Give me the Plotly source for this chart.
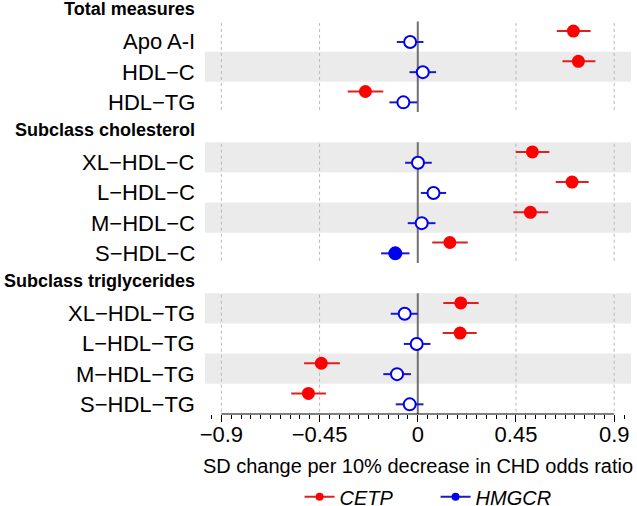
import plotly.graph_objects as go

# ---------------- data ----------------
groups = ["Total measures", "Subclass cholesterol", "Subclass triglycerides"]
group_rows = [
    ["Apo A-I", "HDL\u2212C", "HDL\u2212TG"],
    ["XL\u2212HDL\u2212C", "L\u2212HDL\u2212C", "M\u2212HDL\u2212C", "S\u2212HDL\u2212C"],
    ["XL\u2212HDL\u2212TG", "L\u2212HDL\u2212TG", "M\u2212HDL\u2212TG", "S\u2212HDL\u2212TG"],
]
cetp_est = [0.713, 0.736, -0.240, 0.525, 0.707, 0.516, 0.147, 0.197, 0.194, -0.442, -0.501]
cetp_lo = [0.637, 0.663, -0.321, 0.449, 0.632, 0.438, 0.066, 0.117, 0.114, -0.521, -0.580]
cetp_hi = [0.792, 0.814, -0.158, 0.603, 0.783, 0.598, 0.229, 0.279, 0.270, -0.357, -0.421]
hmgcr_est = [-0.035, 0.023, -0.066, 0.001, 0.072, 0.018, -0.103, -0.060, -0.005, -0.095, -0.037]
hmgcr_lo = [-0.096, -0.038, -0.130, -0.058, 0.014, -0.046, -0.168, -0.124, -0.064, -0.158, -0.101]
hmgcr_hi = [0.026, 0.084, -0.002, 0.064, 0.130, 0.081, -0.038, 0.000, 0.058, -0.031, 0.026]
hmgcr_sig = [False, False, False, False, False, False, True, False, False, False, False]
tick_vals = [-0.9, -0.45, 0, 0.45, 0.9]
tick_text = ["\u22120.9", "\u22120.45", "0", "0.45", "0.9"]
x_title = "SD change per 10% decrease in CHD odds ratio"

# ---------------- layout of slots ----------------
FONT = "Arial, Liberation Sans, sans-serif"
RED_M, RED_L = "#ff0000", "#e02020"
BLUE_M, BLUE_L = "#0000ee", "#1a1acc"
DODGE = 0.18

header_slots, row_slots, row_labels, group_spans = [], [], [], []
s = 0
for g, rows in zip(groups, group_rows):
    header_slots.append(s)
    s += 1
    first = s
    for r in rows:
        row_slots.append(s)
        row_labels.append(r)
        s += 1
    group_spans.append((first - 0.5, s - 1 + 0.5))

fig = go.Figure()

shapes = []
# background bands: every second row overall
for i, yc in enumerate(row_slots):
    if i % 2 == 1:
        shapes.append(dict(type="rect", xref="paper", x0=0, x1=1, yref="y",
                           y0=yc - 0.5, y1=yc + 0.5, fillcolor="#ebebeb",
                           line=dict(width=0), layer="below"))
# vertical reference lines per group
for (y0, y1) in group_spans:
    for v in tick_vals:
        if v == 0:
            shapes.append(dict(type="line", xref="x", yref="y", x0=v, x1=v, y0=y0, y1=y1,
                               line=dict(color="#707070", width=2), layer="below"))
        else:
            shapes.append(dict(type="line", xref="x", yref="y", x0=v, x1=v, y0=y0 + 0.05, y1=y1 - 0.05,
                               line=dict(color="#b8b8b8", width=1, dash="3px,3px"), layer="below"))
# axis line from first to last tick
shapes.append(dict(type="line", xref="x", yref="paper", x0=tick_vals[0], x1=tick_vals[-1], y0=0, y1=0,
                   line=dict(color="black", width=1.2)))

cy = [r - DODGE for r in row_slots]
hy = [r + DODGE for r in row_slots]

fig.add_trace(go.Scatter(
    x=cetp_est, y=cy, mode="markers", showlegend=False,
    marker=dict(color=RED_M, size=13, line=dict(width=0)),
    error_x=dict(type="data", symmetric=False,
                 array=[h - e for h, e in zip(cetp_hi, cetp_est)],
                 arrayminus=[e - l for e, l in zip(cetp_est, cetp_lo)],
                 color=RED_L, thickness=2, width=0)))
fig.add_trace(go.Scatter(
    x=hmgcr_est, y=hy, mode="markers", showlegend=False,
    marker=dict(color=[BLUE_M if sg else "white" for sg in hmgcr_sig], size=12,
                line=dict(color=BLUE_M, width=2)),
    error_x=dict(type="data", symmetric=False,
                 array=[h - e for h, e in zip(hmgcr_hi, hmgcr_est)],
                 arrayminus=[e - l for e, l in zip(hmgcr_est, hmgcr_lo)],
                 color=BLUE_L, thickness=2, width=0)))

# legend traces
fig.add_trace(go.Scatter(x=[None], y=[None], mode="lines+markers", name="<i>CETP</i>",
                         line=dict(color=RED_L, width=2), marker=dict(color=RED_M, size=8)))
fig.add_trace(go.Scatter(x=[None], y=[None], mode="lines+markers", name="<i>HMGCR</i>",
                         line=dict(color=BLUE_L, width=2), marker=dict(color=BLUE_M, size=8)))

annotations = []
for lab, sl in zip(row_labels, row_slots):
    annotations.append(dict(text=lab, xref="paper", x=0, xanchor="right", xshift=-8,
                            yref="y", y=sl + DODGE, yanchor="middle", showarrow=False,
                            font=dict(family=FONT, size=22, color="black")))
for g, sl in zip(groups, header_slots):
    annotations.append(dict(text="<b>" + g + "</b>", xref="paper", x=0, xanchor="right", xshift=-8,
                            yref="y", y=sl + 0.08, yanchor="middle", showarrow=False,
                            font=dict(family=FONT, size=18, color="black")))

fig.update_layout(
    width=637, height=506,
    margin=dict(l=205, r=6, t=0, b=92, autoexpand=False),
    paper_bgcolor="white", plot_bgcolor="white",
    font=dict(family=FONT, color="black"),
    shapes=shapes, annotations=annotations,
    showlegend=True,
    legend=dict(orientation="h", x=0.222, xanchor="left", y=-0.2, yanchor="middle",
                font=dict(family=FONT, size=20, color="black"),
                itemwidth=30, entrywidth=91, bgcolor="rgba(0,0,0,0)"),
    xaxis=dict(range=[-0.975, 0.977], tickvals=tick_vals, ticktext=tick_text,
               showgrid=False, zeroline=False, showline=False,
               ticks="outside", ticklen=7, tickwidth=1.2, tickcolor="black",
               ticklabelstandoff=-6,
               tickfont=dict(family=FONT, size=22, color="black"),
               minor=dict(dtick=0.045, tick0=0, ticks="outside", ticklen=4, tickwidth=1,
                          tickcolor="black", showgrid=False),
               title=dict(text=x_title, font=dict(family=FONT, size=20, color="black"), standoff=12),
               automargin=False, fixedrange=True),
    yaxis=dict(range=[13.5, -0.21], visible=False, fixedrange=True),
)

fig.write_html("out.html", config={"displayModeBar": False},
               post_script="document.body.style.margin='0';document.body.style.overflow='hidden';")
